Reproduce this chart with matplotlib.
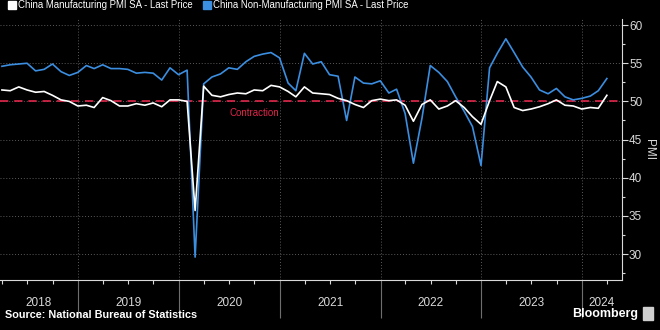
import numpy as np
import pandas as pd
import matplotlib
matplotlib.use("Agg")
import matplotlib.pyplot as plt
import matplotlib.dates as mdates
from matplotlib.lines import Line2D

# Monthly readings, Mar 2018 - Mar 2024
months = pd.date_range("2018-03-31", periods=73, freq="ME")

manufacturing = [
    51.5, 51.4, 51.9, 51.5, 51.2, 51.3, 50.8, 50.2, 50.0, 49.4,            # 2018
    49.5, 49.2, 50.5, 50.1, 49.4, 49.4, 49.7, 49.5, 49.8, 49.3, 50.2, 50.2,  # 2019
    50.0, 35.7, 52.0, 50.8, 50.6, 50.9, 51.1, 51.0, 51.5, 51.4, 52.1, 51.9,  # 2020
    51.3, 50.6, 51.9, 51.1, 51.0, 50.9, 50.4, 50.1, 49.6, 49.2, 50.1, 50.3,  # 2021
    50.1, 50.2, 49.5, 47.4, 49.6, 50.2, 49.0, 49.4, 50.1, 49.2, 48.0, 47.0,  # 2022
    50.1, 52.6, 51.9, 49.2, 48.8, 49.0, 49.3, 49.7, 50.2, 49.5, 49.4, 49.0,  # 2023
    49.2, 49.1, 50.8,                                                      # 2024
]
non_manufacturing = [
    54.6, 54.8, 54.9, 55.0, 54.0, 54.2, 54.9, 53.9, 53.4, 53.8,
    54.7, 54.3, 54.8, 54.3, 54.3, 54.2, 53.7, 53.8, 53.7, 52.8, 54.4, 53.5,
    54.1, 29.6, 52.3, 53.2, 53.6, 54.4, 54.2, 55.2, 55.9, 56.2, 56.4, 55.7,
    52.4, 51.4, 56.3, 54.9, 55.2, 53.5, 53.3, 47.5, 53.2, 52.4, 52.3, 52.7,
    51.1, 51.6, 48.4, 41.9, 47.8, 54.7, 53.8, 52.6, 50.6, 48.7, 46.7, 41.6,
    54.4, 56.3, 58.2, 56.4, 54.5, 53.2, 51.5, 51.0, 51.7, 50.6, 50.2, 50.4,
    50.7, 51.4, 53.0,
]
years = [2018, 2019, 2020, 2021, 2022, 2023, 2024]
y_ticks = [30, 35, 40, 45, 50, 55, 60]
contraction_level = 50

BG = "#000000"
FG = "#d9d9d9"
GRID = "#5a5a5a"
BLUE = "#3b8ee0"
RED = "#e0264a"

plt.rcParams["font.family"] = ["Liberation Sans", "DejaVu Sans"]

fig = plt.figure(figsize=(6.6, 3.3), dpi=100, facecolor=BG)
ax = fig.add_axes([0.0, 0.1515, 0.9425, 0.791])
ax.set_facecolor(BG)

x_left = pd.Timestamp("2018-03-24")
x_right = pd.Timestamp("2024-05-25")
ax.set_xlim(x_left, x_right)
ax.set_ylim(26.6, 60.8)

# grid
for y in y_ticks:
    ax.axhline(y, color=GRID, lw=0.7, ls=(0, (1, 2)), zorder=1)
for yr in years[1:]:
    ax.axvline(pd.Timestamp(f"{yr}-01-01"), color=GRID, lw=0.7, ls=(0, (1, 2)), zorder=1)

ax.axhline(contraction_level, color=RED, lw=1.2, ls=(0, (5, 3.5)), zorder=2)
ax.text(pd.Timestamp("2020-07-01"), contraction_level - 0.9, "Contraction",
        color=RED, fontsize=7, va="top", ha="left")

ax.plot(months, non_manufacturing, color=BLUE, lw=1.2, zorder=3)
ax.plot(months, manufacturing, color="white", lw=1.2, zorder=4)

# spines
for s in ["top", "left"]:
    ax.spines[s].set_visible(False)
ax.spines["right"].set_color(FG)
ax.spines["bottom"].set_color(FG)
ax.spines["right"].set_linewidth(0.8)
ax.spines["bottom"].set_linewidth(0.8)

# y axis on the right
ax.yaxis.tick_right()
ax.set_yticks(y_ticks)
ax.set_yticks(np.arange(27.5, 60.5, 2.5), minor=True)
ax.tick_params(axis="y", which="major", colors=FG, labelsize=8.5, length=4, width=0.8, pad=1)
ax.tick_params(axis="y", which="minor", colors=FG, length=2.5, width=0.8)
ax.yaxis.set_label_position("right")
ax.set_ylabel("PMI", color=FG, fontsize=8.5, rotation=270, labelpad=9)

# x axis: long ticks at year starts, short ones at quarters, labels centred in each year
ax.set_xticks([pd.Timestamp(f"{yr}-01-01") for yr in years[1:]])
ax.xaxis.set_minor_locator(mdates.MonthLocator(bymonth=[1, 4, 7, 10]))
ax.tick_params(axis="x", which="major", colors="#6e6e6e", length=27, width=0.8, labelbottom=False)
ax.tick_params(axis="x", which="minor", colors=FG, length=3, width=0.8)

xl = ax.get_xlim()
for yr in years:
    a = max(mdates.date2num(pd.Timestamp(f"{yr}-01-01")), xl[0])
    b = min(mdates.date2num(pd.Timestamp(f"{yr + 1}-01-01")), xl[1])
    ax.text((a + b) / 2, -0.088, str(yr), color=FG, fontsize=8.5, ha="center", va="center",
            transform=ax.get_xaxis_transform())

# legend
handles = [
    Line2D([], [], marker="s", color="white", ls="none", markersize=5.5),
    Line2D([], [], marker="s", color=BLUE, ls="none", markersize=5.5),
]
labels = ["China Manufacturing PMI SA - Last Price", "China Non-Manufacturing PMI SA - Last Price"]
leg = fig.legend(handles, labels, loc="upper left", bbox_to_anchor=(0.0, 1.02), ncol=2,
                 frameon=False, fontsize=6.9, handletextpad=0.15, columnspacing=1.0,
                 handlelength=1.0, borderaxespad=0.3)
for t in leg.get_texts():
    t.set_color("white")

fig.text(0.008, 0.045, "Source: National Bureau of Statistics", color="white",
         fontsize=7.8, fontweight="bold", ha="left", va="center")
fig.text(0.967, 0.05, "Bloomberg", color="white", fontsize=9, fontweight="bold",
         ha="right", va="center")
fig.patches.append(plt.Rectangle((0.974, 0.03), 0.015, 0.04, transform=fig.transFigure,
                                 color="#cfcfcf", figure=fig))

fig.savefig("out.png", dpi=100, facecolor=BG)
